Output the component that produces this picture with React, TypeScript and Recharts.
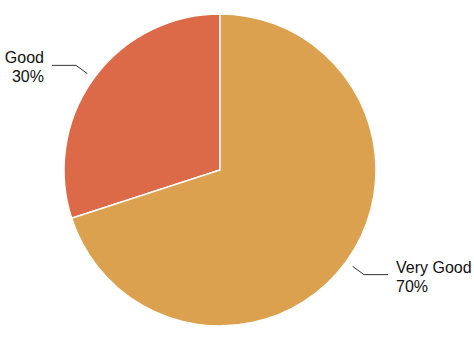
import { PieChart, Pie, Cell } from 'recharts';

const categories = ['Good', 'Very Good'];
const shares = [30, 70];
const colors = ['#DC6947', '#DBA14F'];

const data = categories.map((name, i) => ({ name, value: shares[i] }));

const RADIAN = Math.PI / 180;

function renderLabel(props: any) {
  const { cx, cy, midAngle, outerRadius, name, value } = props;
  const cos = Math.cos(-midAngle * RADIAN);
  const sin = Math.sin(-midAngle * RADIAN);
  const sx = cx + (outerRadius + 8) * cos;
  const sy = cy + (outerRadius + 8) * sin;
  const mx = cx + (outerRadius + 22) * cos;
  const my = cy + (outerRadius + 22) * sin;
  const dir = cos >= 0 ? 1 : -1;
  const ex = mx + dir * 24;
  const tx = ex + dir * 8;
  const anchor = dir > 0 ? 'start' : 'end';
  return (
    <g>
      <polyline
        points={`${sx},${sy} ${mx},${my} ${ex},${my}`}
        fill="none"
        stroke="#333"
        strokeWidth={1}
      />
      <text x={tx} y={my - 2} textAnchor={anchor} fill="#111" fontSize={16}>
        {name}
      </text>
      <text x={tx} y={my + 17} textAnchor={anchor} fill="#111" fontSize={16}>
        {value}%
      </text>
    </g>
  );
}

export default function App() {
  return (
    <div
      style={{
        position: 'absolute',
        left: 0,
        top: 0,
        width: 474,
        height: 348,
        background: '#fff',
        fontFamily: '"Liberation Sans", Arial, sans-serif',
      }}
    >
      <PieChart width={474} height={348} margin={{ top: 0, right: 0, bottom: 0, left: 0 }}>
        <Pie
          data={data}
          dataKey="value"
          nameKey="name"
          cx={220}
          cy={170}
          outerRadius={156}
          startAngle={90}
          endAngle={450}
          stroke="#fff"
          strokeWidth={1.5}
          label={renderLabel}
          labelLine={false}
          isAnimationActive={false}
        >
          {data.map((d, i) => (
            <Cell key={d.name} fill={colors[i]} />
          ))}
        </Pie>
      </PieChart>
    </div>
  );
}
